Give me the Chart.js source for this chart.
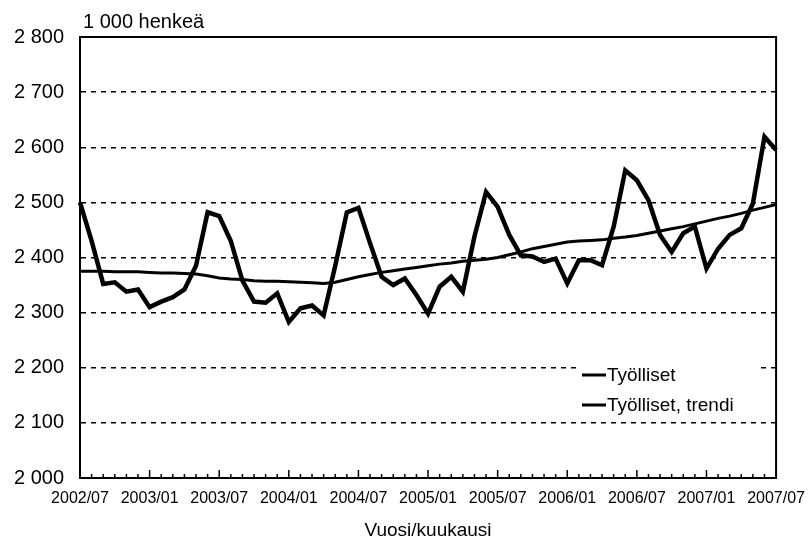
<!DOCTYPE html>
<html>
<head>
<meta charset="utf-8">
<script src="https://cdn.jsdelivr.net/npm/chart.js@4/dist/chart.umd.min.js"></script>
<style>
    html, body { margin: 0; padding: 0; background: #fff; }
    #wrap { width: 808px; height: 544px; }
</style>
</head>
<body>
<div id="wrap"><canvas id="myChart" width="808" height="544"></canvas></div>
<script>
/**
 * Data, 1 000 persons by month.
 */

var months = [
    '2002/07', '2002/08', '2002/09', '2002/10', '2002/11', '2002/12',
    '2003/01', '2003/02', '2003/03', '2003/04', '2003/05', '2003/06',
    '2003/07', '2003/08', '2003/09', '2003/10', '2003/11', '2003/12',
    '2004/01', '2004/02', '2004/03', '2004/04', '2004/05', '2004/06',
    '2004/07', '2004/08', '2004/09', '2004/10', '2004/11', '2004/12',
    '2005/01', '2005/02', '2005/03', '2005/04', '2005/05', '2005/06',
    '2005/07', '2005/08', '2005/09', '2005/10', '2005/11', '2005/12',
    '2006/01', '2006/02', '2006/03', '2006/04', '2006/05', '2006/06',
    '2006/07', '2006/08', '2006/09', '2006/10', '2006/11', '2006/12',
    '2007/01', '2007/02', '2007/03', '2007/04', '2007/05', '2007/06',
    '2007/07'
];

var employed = [
    2500, 2430, 2352, 2355, 2338, 2342,
    2310, 2320, 2328, 2342, 2385, 2482,
    2475, 2430, 2358, 2320, 2318, 2335,
    2283, 2308, 2313, 2295, 2385, 2482,
    2490, 2426, 2365, 2350, 2362, 2332,
    2298, 2347, 2365, 2338, 2438, 2519,
    2492, 2441, 2404, 2402, 2392, 2398,
    2353, 2395, 2395, 2386, 2456, 2558,
    2540, 2504, 2441, 2410, 2444, 2456,
    2380, 2416, 2441, 2453, 2498, 2619,
    2595
];

var employedTrend = [
    2375, 2375, 2375, 2374, 2374, 2374,
    2373, 2372, 2372, 2371, 2370, 2367,
    2363, 2361, 2360, 2358, 2357, 2357,
    2356, 2355, 2354, 2353, 2355, 2360,
    2365, 2369, 2373, 2376, 2379, 2382,
    2385, 2388, 2390, 2393, 2395, 2397,
    2400, 2405, 2410, 2416, 2420, 2424,
    2428, 2430, 2431, 2432, 2435, 2437,
    2440, 2444, 2448, 2452, 2456, 2461,
    2466, 2471, 2475, 2480, 2486, 2491,
    2496
];

var seriesNames = ['Työlliset', 'Työlliset, trendi'];
var unitLabel   = '1 000 henkeä';
var xTitle      = 'Vuosi/kuukausi';

var yMin  = 2000;
var yMax  = 2800;
var yStep = 100;


/**
 * Frame, inner month ticks, unit text and legend.
 */

var extras = {
    id: 'extras',
    afterDraw(chart) {
        var ctx = chart.ctx;
        var area = chart.chartArea;
        var x = chart.scales.x;

        ctx.save();
        ctx.strokeStyle = '#000';
        ctx.lineWidth = 2;
        ctx.beginPath();
        ctx.moveTo(area.left, area.top);
        ctx.lineTo(area.right, area.top);
        ctx.lineTo(area.right, area.bottom);
        ctx.stroke();

        // month ticks point up into the plot
        ctx.lineWidth = 1.5;
        for (var i = 0; i < months.length; i++) {
            var px = x.getPixelForValue(i);
            var len = (i % 6 === 0) ? 8 : 4;
            ctx.beginPath();
            ctx.moveTo(px, area.bottom);
            ctx.lineTo(px, area.bottom - len);
            ctx.stroke();
        }

        ctx.fillStyle = '#000';
        ctx.font = '20px "Liberation Sans", Arial, sans-serif';
        ctx.textAlign = 'left';
        ctx.textBaseline = 'alphabetic';
        ctx.fillText(unitLabel, area.left + 3, 28);

        // legend inside the plot, on a white patch over the grid
        var lx = area.left + 502;
        var ly = [375, 405];
        ctx.fillStyle = '#fff';
        ctx.fillRect(lx - 4, 360, 180, 57);
        ctx.fillStyle = '#000';
        ctx.font = '19px "Liberation Sans", Arial, sans-serif';
        ctx.textBaseline = 'middle';
        chart.data.datasets.forEach(function(ds, k) {
            ctx.lineWidth = 3;
            ctx.strokeStyle = ds.borderColor;
            ctx.beginPath();
            ctx.moveTo(lx, ly[k]);
            ctx.lineTo(lx + 24, ly[k]);
            ctx.stroke();
            ctx.fillText(ds.label, lx + 25, ly[k] + 1);
        });
        ctx.restore();
    }
};


var ctx = document.getElementById('myChart').getContext('2d');

var chart = new Chart(ctx, {
    type: 'line',

    data: {
        labels: months,
        datasets: [{
            label: seriesNames[0],
            data: employed,
            borderColor: '#000',
            borderWidth: 4.5,
            pointRadius: 0,
            tension: 0
        }, {
            label: seriesNames[1],
            data: employedTrend,
            borderColor: '#000',
            borderWidth: 3,
            pointRadius: 0,
            tension: 0
        }]
    },

    options: {
        responsive: false,
        animation: false,
        layout: {
            padding: { top: 37, right: 23, left: 0, bottom: 0 }
        },
        plugins: {
            legend: { display: false },
            tooltip: { enabled: false }
        },
        scales: {
            x: {
                grid: { display: false },
                border: { display: true, color: '#000', width: 2 },
                ticks: {
                    autoSkip: false,
                    maxRotation: 0,
                    padding: 3,
                    color: '#000',
                    font: { family: '"Liberation Sans", Arial, sans-serif', size: 16 },
                    callback: function(value, index) {
                        return index % 6 === 0 ? months[index] : '';
                    }
                },
                title: {
                    display: true,
                    text: xTitle,
                    color: '#000',
                    font: { family: '"Liberation Sans", Arial, sans-serif', size: 19 },
                    padding: { top: 0, bottom: 2 }
                },
                afterFit: function(scale) { scale.height = 66; }
            },
            y: {
                min: yMin,
                max: yMax,
                grid: {
                    color: '#000',
                    lineWidth: 1.5,
                    drawTicks: false
                },
                border: { display: true, color: '#000', width: 2, dash: [5, 5] },
                ticks: {
                    stepSize: yStep,
                    padding: 16,
                    color: '#000',
                    font: { family: '"Liberation Sans", Arial, sans-serif', size: 20 },
                    callback: function(value) {
                        return String(value).replace(/\B(?=(\d{3})+(?!\d))/g, ' ');
                    }
                },
                afterFit: function(scale) { scale.width = 80; }
            }
        }
    },

    plugins: [extras]
});
</script>
</body>
</html>
